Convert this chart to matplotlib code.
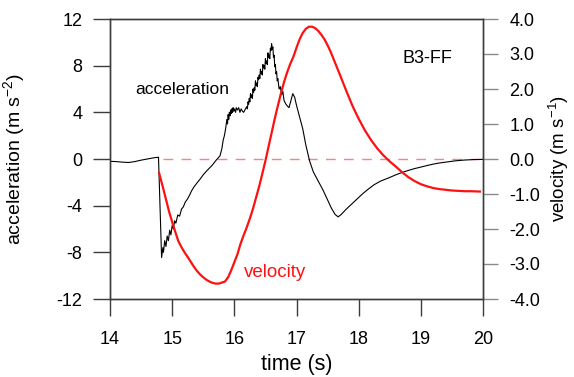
import matplotlib
matplotlib.use('Agg')
import matplotlib.pyplot as plt
from matplotlib.ticker import FormatStrFormatter

plt.rcParams['font.family'] = ['Liberation Sans', 'DejaVu Sans']
plt.rcParams['mathtext.default'] = 'regular'
plt.rcParams['axes.unicode_minus'] = False

# acceleration (noisy part typed point by point)
acc_t = [14.00, 14.10, 14.20, 14.30, 14.40, 14.50, 14.60, 14.70, 14.78, 14.79,
         14.81, 14.83, 14.85, 14.86, 14.88, 14.90, 14.92, 14.94, 14.96, 14.98,
         15.00, 15.02, 15.04, 15.06, 15.09, 15.12, 15.15, 15.18, 15.21, 15.25,
         15.28, 15.31, 15.35, 15.40, 15.45, 15.50, 15.55, 15.60, 15.65, 15.70,
         15.74, 15.77, 15.80, 15.82, 15.84, 15.86, 15.88, 15.89,
         15.90, 15.91, 15.92, 15.93, 15.94, 15.95, 15.96, 15.97, 15.98, 15.99,
         16.00, 16.02, 16.03, 16.05, 16.07, 16.09, 16.11, 16.13, 16.15, 16.17,
         16.19, 16.20, 16.21, 16.22, 16.23, 16.24, 16.25, 16.26, 16.27, 16.28,
         16.29, 16.30, 16.31, 16.32, 16.33, 16.34, 16.35, 16.36, 16.37, 16.38,
         16.39, 16.40, 16.41, 16.42, 16.43, 16.44, 16.45, 16.46, 16.47, 16.48,
         16.49, 16.50, 16.51, 16.52, 16.53, 16.54, 16.55, 16.56, 16.57, 16.58,
         16.59, 16.60, 16.61, 16.62, 16.63, 16.64, 16.65, 16.66, 16.67, 16.68,
         16.69, 16.70, 16.72, 16.74, 16.76, 16.78, 16.80, 16.83, 16.86, 16.88,
         16.91, 16.94, 16.97, 17.00, 17.05, 17.10, 17.15, 17.21, 17.27, 17.33,
         17.38, 17.43, 17.50, 17.56, 17.62, 17.67, 17.72, 17.80, 17.90, 18.00,
         18.07, 18.15, 18.25, 18.35, 18.42, 18.50, 18.60, 18.70, 18.80, 18.90,
         18.98, 19.10, 19.20, 19.30, 19.41, 19.55, 19.70, 19.85, 20.00]
acc = [-0.20, -0.22, -0.27, -0.30, -0.22, -0.10, 0.00, 0.10, 0.15, -1.5,
       -5.0, -8.45, -7.6, -8.0, -7.0, -7.5, -6.6, -7.0, -6.1, -6.5,
       -5.7, -6.0, -5.3, -5.5, -4.8, -4.9, -4.3, -4.1, -3.7, -3.4,
       -3.1, -2.75, -2.4, -2.05, -1.72, -1.35, -1.05, -0.78, -0.50, -0.15,
       0.10, 0.28, 0.9, 1.6, 2.0, 2.6, 3.4, 3.0,
       3.8, 3.4, 4.0, 3.7, 4.2, 3.9, 4.3, 4.0, 4.4, 4.1,
       4.3, 4.0, 4.4, 4.2, 4.4, 4.0, 4.3, 4.1, 4.0, 4.2,
       4.4, 4.5, 4.3, 4.9, 4.7, 5.2, 4.9, 5.6, 5.3, 5.5,
       5.2, 6.0, 5.7, 6.1, 5.9, 6.7, 6.3, 6.5, 6.2, 7.0,
       6.8, 7.2, 6.9, 7.7, 7.3, 7.5, 7.2, 8.1, 7.8, 8.0,
       7.7, 8.6, 8.2, 8.4, 8.1, 9.1, 8.7, 8.9, 8.6, 9.5,
       9.3, 9.9, 9.4, 9.6, 8.7, 8.9, 7.9, 8.1, 7.3, 7.5,
       6.7, 6.9, 6.0, 6.2, 5.5, 5.8, 5.0, 4.7, 4.5, 4.4,
       5.0, 5.6, 5.3, 4.6, 3.6, 2.6, 1.2, -0.15, -1.1, -1.7,
       -2.2, -2.7, -3.5, -4.2, -4.75, -4.96, -4.75, -4.3, -3.8, -3.3,
       -2.95, -2.6, -2.2, -1.9, -1.75, -1.58, -1.35, -1.15, -0.98, -0.82,
       -0.72, -0.56, -0.44, -0.34, -0.26, -0.16, -0.09, -0.05, -0.03]

# velocity
vel_t = [14.79, 14.85, 14.90, 14.95, 15.00, 15.05, 15.10, 15.15, 15.20, 15.25,
         15.30, 15.35, 15.40, 15.45, 15.50, 15.55, 15.60, 15.65, 15.70, 15.75,
         15.80, 15.85, 15.90, 15.95, 16.00, 16.05, 16.10, 16.15, 16.20, 16.25,
         16.30, 16.35, 16.40, 16.45, 16.50, 16.55, 16.60, 16.65, 16.70, 16.75,
         16.80, 16.85, 16.90, 16.95, 17.00, 17.05, 17.10, 17.15, 17.20, 17.25,
         17.30, 17.35, 17.40, 17.45, 17.50, 17.55, 17.60, 17.65, 17.70, 17.80,
         17.90, 18.00, 18.10, 18.20, 18.30, 18.40, 18.50, 18.60, 18.70, 18.80,
         18.90, 19.00, 19.10, 19.20, 19.30, 19.40, 19.50, 19.60, 19.70, 19.80,
         19.95]
vel = [-0.40, -0.80, -1.15, -1.50, -1.80, -2.08, -2.35, -2.52, -2.67, -2.80,
       -2.94, -3.08, -3.20, -3.30, -3.38, -3.45, -3.50, -3.54, -3.56, -3.56,
       -3.53, -3.50, -3.38, -3.18, -2.95, -2.72, -2.42, -2.18, -1.95, -1.70,
       -1.42, -1.10, -0.78, -0.42, -0.05, 0.35, 0.75, 1.15, 1.52, 1.88,
       2.20, 2.48, 2.72, 2.92, 3.18, 3.42, 3.60, 3.72, 3.78, 3.78,
       3.74, 3.66, 3.55, 3.42, 3.25, 3.06, 2.84, 2.62, 2.40, 1.95,
       1.52, 1.15, 0.82, 0.54, 0.30, 0.10, -0.07, -0.22, -0.38, -0.52,
       -0.63, -0.72, -0.78, -0.83, -0.86, -0.88, -0.90, -0.91, -0.92, -0.92,
       -0.93]

acc_ticks = [-12, -8, -4, 0, 4, 8, 12]
vel_ticks = [-4.0, -3.0, -2.0, -1.0, 0.0, 1.0, 2.0, 3.0, 4.0]
time_ticks = [14, 15, 16, 17, 18, 19, 20]

fig = plt.figure(figsize=(5.74, 3.77), dpi=100)
ax = fig.add_axes([110 / 574, 1 - 299 / 377, 373 / 574, 280 / 377])
ax2 = ax.twinx()

spine_col = '#3c3c3c'

ax.plot(acc_t, acc, color='black', lw=0.8, zorder=3)
ax.plot([14.85, 20], [0, 0], color='#ff8080', lw=1.0, ls=(0, (7, 6)), zorder=1)
ax2.plot(vel_t, vel, color='#ff1010', lw=1.6, zorder=3)

ax.set_xlim(14, 20)
ax.set_ylim(-12, 12)
ax2.set_ylim(-4, 4)
ax.set_xticks(time_ticks)
ax.set_yticks(acc_ticks)
ax2.set_yticks(vel_ticks)
ax2.yaxis.set_major_formatter(FormatStrFormatter('%.1f'))

for a in (ax, ax2):
    for s in a.spines.values():
        s.set_color(spine_col)
        s.set_linewidth(1.0)

ax.tick_params(axis='both', direction='out', length=12, width=1.0,
               color=spine_col, labelsize=13)
ax.tick_params(axis='y', pad=8)
ax.tick_params(axis='x', pad=11)
ax2.tick_params(axis='y', direction='out', length=11, width=1.0,
                color='#8a8a8a', labelsize=13, pad=8)

ax.set_xlabel('time (s)', fontsize=15.5)
ax.xaxis.set_label_coords(0.5, -0.195)
ax.set_ylabel('acceleration (m s$^{-2}$)', fontsize=14)
ax.yaxis.set_label_coords(-0.222, 0.5)
ax2.set_ylabel('velocity (m s$^{-1}$)', fontsize=13.5)
ax2.yaxis.set_label_coords(1.172, 0.5)

ax.text(15.16, 5.96, 'acceleration', fontsize=12.5, color='black',
        ha='center', va='center')
ax.text(16.65, -9.7, 'velocity', fontsize=13.5, color='#ff1010',
        ha='center', va='center')
ax.text(19.11, 8.62, 'B3-FF', fontsize=13, color='black',
        ha='center', va='center')

fig.savefig('out.png', dpi=100)
